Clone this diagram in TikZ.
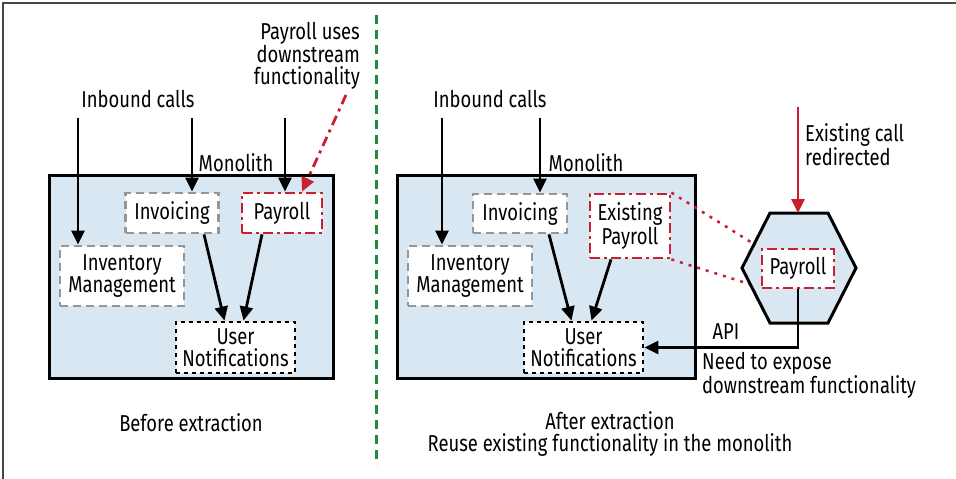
\documentclass[tikz,border=0pt]{standalone}
\usepackage{fontspec}
\setmainfont{Fira Sans}[FakeStretch=0.8]
\usetikzlibrary{arrows.meta}
\definecolor{monofill}{RGB}{216,231,242}
\definecolor{payred}{RGB}{200,32,47}
\definecolor{splitgreen}{RGB}{30,140,60}
\definecolor{dashgray}{RGB}{150,150,150}
\tikzset{
  arr/.style={line width=2.8pt, -{Triangle[width=13pt,length=14pt]}},
  monobox/.style={draw, line width=3pt, fill=monofill},
  svcbox/.style={fill=white, line width=2.8pt, inner sep=0pt, align=center},
  grayd/.style={svcbox, draw=dashgray, dash pattern=on 8pt off 5pt},
  redd/.style={svcbox, draw=payred, dash pattern=on 10pt off 4pt on 3pt off 4pt},
  blackd/.style={svcbox, draw=black, dash pattern=on 4pt off 4pt},
  lbl/.style={inner sep=0pt, align=center}
}
\begin{document}
\begin{tikzpicture}[x=1pt,y=1pt,yscale=-1,font=\fontsize{23}{22}\selectfont]
\useasboundingbox (0,0) rectangle (956,479);
%Frame
\draw [color={rgb, 255:red, 70; green, 70; blue, 70}, line width=2pt] (3,479) -- (3,3) -- (956,3) ;
%Split line
\draw [splitgreen, line width=3pt, dash pattern=on 9pt off 6pt] (376,15) -- (376,465) ;

%Before extraction
\node [monobox, minimum width=284, minimum height=203] (mono1) at (191,276.5) {};
\node [lbl] (monolbl1) at (236,163) {Monolith};
\node [grayd, minimum width=93, minimum height=40] (inv1) at (172,213) {Invoicing};
\node [redd, minimum width=80, minimum height=40] (pay1) at (282,213) {Payroll};
\node [grayd, minimum width=124, minimum height=60] (invm1) at (122,276) {Inventory\\Management};
\node [blackd, minimum width=119, minimum height=51] (un1) at (235.5,347.5) {User\\Notifications};
\node [lbl] (inbound1) at (138,99) {Inbound calls};
\coordinate (in1a) at (78,118);
\coordinate (in1b) at (192,118);
\coordinate (in1c) at (285,118);
\draw [arr] (in1a) -- (in1a |- invm1.north) ;
\draw [arr] (in1b) -- (in1b |- inv1.north) ;
\draw [arr] (in1c) -- (in1c |- pay1.north) ;
\draw [arr] ([xshift=32pt]inv1.south) -- ([xshift=-11pt]un1.north) ;
\draw [arr] ([xshift=-20pt]pay1.south) -- ([xshift=8pt]un1.north) ;
\node [lbl, align=right, anchor=east] (usesnote) at (360,56) {Payroll uses\\downstream\\functionality};
\coordinate (usestail) at (346,95);
\draw [arr, payred, dash pattern=on 10pt off 5pt on 3pt off 5pt] (usestail) -- ([xshift=20pt]pay1.north) ;
\node [lbl] (before) at (191,423) {Before extraction};

%After extraction
\node [monobox, minimum width=298, minimum height=203] (mono2) at (546,276.5) {};
\node [lbl] (monolbl2) at (586,163) {Monolith};
\node [grayd, minimum width=94, minimum height=39] (inv2) at (520,213.5) {Invoicing};
\node [redd, minimum width=80, minimum height=64] (epay) at (630,226) {Existing\\Payroll};
\node [grayd, minimum width=124, minimum height=60] (invm2) at (470,276) {Inventory\\Management};
\node [blackd, minimum width=119, minimum height=51] (un2) at (583.5,347.5) {User\\Notifications};
\node [lbl] (inbound2) at (490,99) {Inbound calls};
\coordinate (in2a) at (442,118);
\coordinate (in2b) at (540,118);
\draw [arr] (in2a) -- (in2a |- invm2.north) ;
\draw [arr] (in2b) -- (in2b |- inv2.north) ;
\draw [arr] ([xshift=29pt]inv2.south) -- ([xshift=-12pt]un2.north) ;
\draw [arr] ([xshift=-19pt]epay.south) -- ([xshift=8pt]un2.north) ;

%Extracted service
\coordinate (hpnw) at (762,249);
\coordinate (hpsw) at (762,288);
\draw [payred, line width=2.5pt, dash pattern=on 3pt off 6pt] (epay.north east) -- (hpnw) ;
\draw [payred, line width=2.5pt, dash pattern=on 3pt off 6pt] (epay.south east) -- (hpsw) ;
%Shape: Hexagon
\draw [line width=3pt, fill=monofill, line join=miter] (770,213) -- (828,213) -- (856,268) -- (828,323) -- (770,323) -- (742,268) -- cycle ;
\node [redd, minimum width=72, minimum height=39] (hpay) at (798,268.5) {Payroll};
\coordinate (redirtail) at (798,107);
\draw [arr, payred] (redirtail) -- (798,213) ;
\node [lbl, align=left, anchor=west] (redirnote) at (805,145) {Existing call\\redirected};
\draw [arr] (hpay.south) |- (un2.east) ;
\node [lbl] (apilbl) at (726,332) {API};
\node [lbl, align=left, anchor=west] (exposenote) at (702,375.5) {Need to expose\\downstream functionality};
\node [lbl] (after) at (610,433.5) {After extraction\\Reuse existing functionality in the monolith};
\end{tikzpicture}
\end{document}
